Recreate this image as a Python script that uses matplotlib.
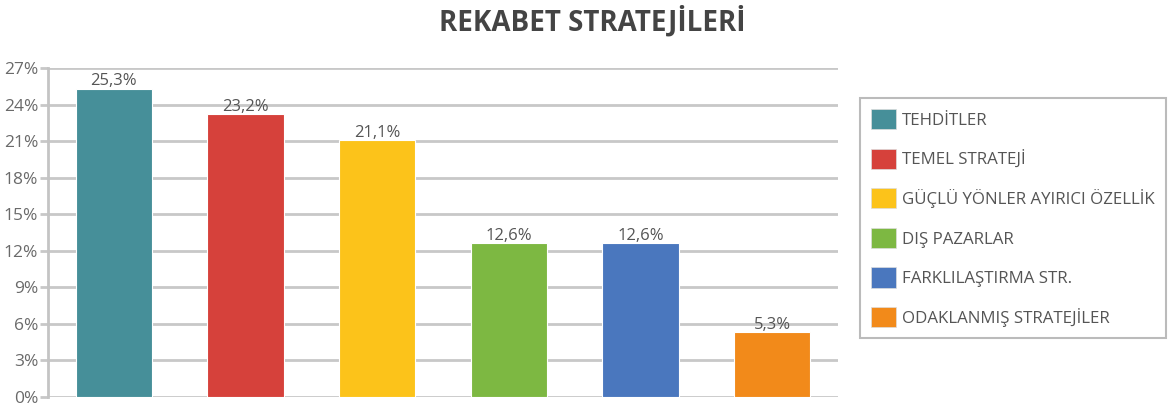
import matplotlib
matplotlib.use("Agg")
import matplotlib.pyplot as plt
from matplotlib.patches import Patch
from matplotlib.ticker import FixedLocator

plt.rcParams['font.family'] = ['Open Sans', 'DejaVu Sans']

categories = ["TEHDİTLER", "TEMEL STRATEJİ", "GÜÇLÜ YÖNLER AYIRICI ÖZELLİK",
              "DIŞ PAZARLAR", "FARKLILAŞTIRMA STR.", "ODAKLANMIŞ STRATEJİLER"]
values = [25.3, 23.2, 21.1, 12.6, 12.6, 5.3]
colors = ["#468F99", "#D6413B", "#FCC31A", "#7DB842", "#4A77BE", "#F28A1A"]
yticks = [0, 3, 6, 9, 12, 15, 18, 21, 24, 27]
title = "REKABET STRATEJİLERİ"

fig = plt.figure(figsize=(11.68, 4.05), dpi=100)
ax = fig.add_axes([48/1168, 8/405, (838-48)/1168, (397-68)/405])

x = list(range(len(values)))
bars = ax.bar(x, values, width=0.58, color=colors, edgecolor='white', linewidth=0.8, zorder=3)
for xi, v in zip(x, values):
    ax.text(xi, v - 0.05, f"{v:.1f}%".replace('.', ','), ha='center', va='bottom',
            fontsize=12, color='#555555', zorder=4)

ax.set_xlim(-0.5, 5.5)
ax.set_ylim(0, 27)
ax.yaxis.set_major_locator(FixedLocator(yticks))
ax.set_yticklabels([f"{t}%" for t in yticks])
ax.set_xticks([])
ax.grid(axis='y', color='#c8c8c8', linewidth=2, zorder=0)
for s in ['top', 'right', 'bottom']:
    ax.spines[s].set_visible(False)
ax.spines['left'].set_color('#c4c4c4')
ax.spines['left'].set_linewidth(2)
ax.tick_params(axis='y', length=6, width=2, color='#c8c8c8', labelsize=12.5,
               labelcolor='#6a6a6a', pad=1)

fig.text(592/1168, 1 - 22/405, title, ha='center', va='center', fontsize=20,
         fontweight='bold', color='#444444')

handles = [Patch(facecolor=c, edgecolor='#dddddd', linewidth=0.5) for c in colors]
leg = fig.legend(handles, categories, loc='upper left', bbox_to_anchor=(860/1168, 1 - 98/405),
                 fontsize=12.2, frameon=True, fancybox=False, handlelength=1.45,
                 handleheight=1.45, handletextpad=0.4, labelspacing=1.15, borderpad=0.65,
                 borderaxespad=0)
leg.get_frame().set_edgecolor('#aaaaaa')
leg.get_frame().set_linewidth(1.5)
for t in leg.get_texts():
    t.set_color('#555555')

fig.savefig("out.png", dpi=100)
